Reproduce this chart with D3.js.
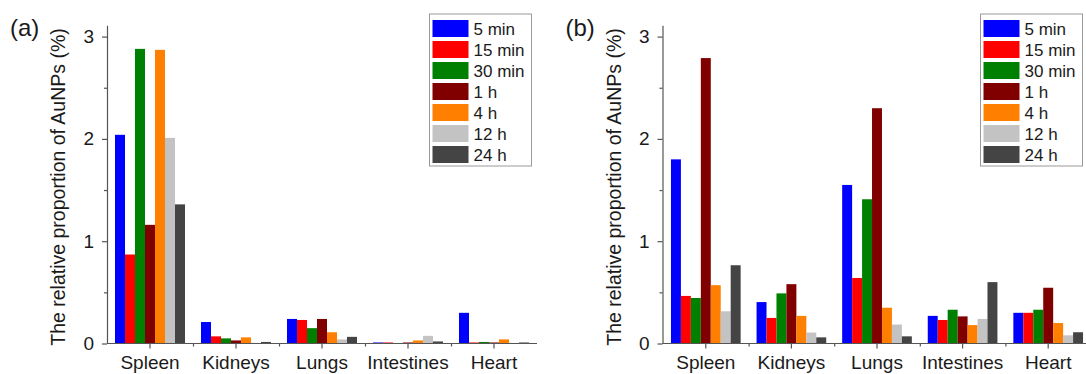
<!DOCTYPE html>
<html>
<head>
<meta charset="utf-8">
<script src="https://cdn.jsdelivr.net/npm/d3@7"></script>
<style>
  body { margin: 0; background: #fff; }
  svg { display: block; font-family: "Liberation Sans", Arial, sans-serif; }
</style>
</head>
<body>
<svg id="chart" width="1086" height="374"></svg>
<script>
// organos y tiempos
const organs = ["Spleen", "Kidneys", "Lungs", "Intestines", "Heart"];
const times = ["5 min", "15 min", "30 min", "1 h", "4 h", "12 h", "24 h"];
const colors = ["#0000ff", "#ff0000", "#008000", "#800000", "#ff8000", "#c3c3c3", "#444444"];
const yTicks = [0, 1, 2, 3];
const yMinor = [0.5, 1.5, 2.5];

// valores por tiempo (una fila por tiempo, una columna por órgano)
const valuesA = [
    [2.04, 0.21, 0.24, 0.01, 0.30],
    [0.87, 0.07, 0.23, 0.01, 0.01],
    [2.88, 0.05, 0.15, 0.005, 0.015],
    [1.16, 0.03, 0.24, 0.01, 0.01],
    [2.87, 0.06, 0.11, 0.03, 0.04],
    [2.01, 0.005, 0.04, 0.075, 0.005],
    [1.36, 0.015, 0.065, 0.02, 0.01]
];
const valuesB = [
    [1.80, 0.405, 1.55, 0.27, 0.30],
    [0.465, 0.25, 0.64, 0.23, 0.30],
    [0.445, 0.49, 1.41, 0.33, 0.33],
    [2.79, 0.58, 2.30, 0.265, 0.545],
    [0.57, 0.27, 0.35, 0.18, 0.20],
    [0.315, 0.107, 0.185, 0.24, 0.08],
    [0.765, 0.06, 0.07, 0.60, 0.11]
];

const svg = d3.select('#chart');

function drawPanel(opts) {
    const { values, label, axisX, xStart, step, legendX } = opts;
    const y0 = 343.5, unit = 102.3;
    const g = svg.append('g');

    const y = d3.scaleLinear()
                .domain([0, 3.11])
                .range([y0, y0 - 3.11 * unit]);

    const x0 = d3.scaleBand()
                 .domain(organs)
                 .range([xStart, xStart + step * organs.length])
                 .paddingInner(0.186)
                 .paddingOuter(0.093);

    const x1 = d3.scaleBand()
                 .domain(times)
                 .range([0, x0.bandwidth()]);

    // barras
    times.forEach((t, i) => {
        g.append('g')
         .selectAll('rect')
         .data(organs.map((o, j) => ({ organ: o, v: values[i][j] })))
         .join('rect')
         .attr('x', d => x0(d.organ) + x1(t))
         .attr('width', x1.bandwidth())
         .attr('y', d => y(d.v))
         .attr('height', d => y0 - y(d.v))
         .attr('fill', colors[i]);
    });

    // eje x
    const xAxis = g.append('g')
        .attr('transform', `translate(0,${y0})`)
        .call(d3.axisBottom(x0).tickSize(5).tickSizeOuter(0).tickPadding(7));
    xAxis.select('.domain').attr('d', `M${axisX},0H${xStart + step * organs.length}`);

    const xIdx = d3.scaleLinear().domain([0, organs.length]).range([xStart, xStart + step * organs.length]);
    g.append('g')
     .attr('transform', `translate(0,${y0})`)
     .call(d3.axisBottom(xIdx).tickValues([1, 2, 3, 4]).tickSize(3).tickFormat(''))
     .select('.domain').remove();

    // eje y
    g.append('g')
     .attr('transform', `translate(${axisX},0)`)
     .call(d3.axisLeft(y).tickValues(yTicks).tickSize(5).tickSizeOuter(0).tickPadding(8).tickFormat(d3.format('d')));
    g.append('g')
     .attr('transform', `translate(${axisX},0)`)
     .call(d3.axisLeft(y).tickValues(yMinor).tickSize(3).tickFormat(''))
     .select('.domain').remove();

    g.selectAll('.tick text')
     .attr('font-size', '19px')
     .attr('fill', '#1a1a1a')
     .attr('font-family', '"Liberation Sans", Arial, sans-serif');
    g.selectAll('.domain, .tick line').attr('stroke', '#555').attr('stroke-width', 1.2);

    g.append('text')
     .attr('transform', `translate(${axisX - 42},${187}) rotate(-90)`)
     .attr('text-anchor', 'middle')
     .attr('font-size', '19.5px')
     .attr('fill', '#1a1a1a')
     .text('The relative proportion of AuNPs (%)');

    g.append('text')
     .attr('x', axisX - 97)
     .attr('y', 36)
     .attr('font-size', '24px')
     .attr('fill', '#1a1a1a')
     .text(label);

    // leyenda
    const leg = g.append('g').attr('transform', `translate(${legendX},14)`);
    leg.append('rect')
       .attr('width', 102).attr('height', 152)
       .attr('fill', '#fff').attr('stroke', '#999').attr('stroke-width', 1);
    times.forEach((t, i) => {
        leg.append('rect')
           .attr('x', 3).attr('y', 6 + i * 21)
           .attr('width', 36).attr('height', 17)
           .attr('fill', colors[i]);
        leg.append('text')
           .attr('x', 44).attr('y', 21 + i * 21)
           .attr('font-size', '17px')
           .attr('fill', '#1a1a1a')
           .text(t);
    });
}

drawPanel({ values: valuesA, label: '(a)', axisX: 107, xStart: 107, step: 86, legendX: 429.5 });
drawPanel({ values: valuesB, label: '(b)', axisX: 662.5, xStart: 663, step: 85.6, legendX: 980.5 });
</script>
</body>
</html>
